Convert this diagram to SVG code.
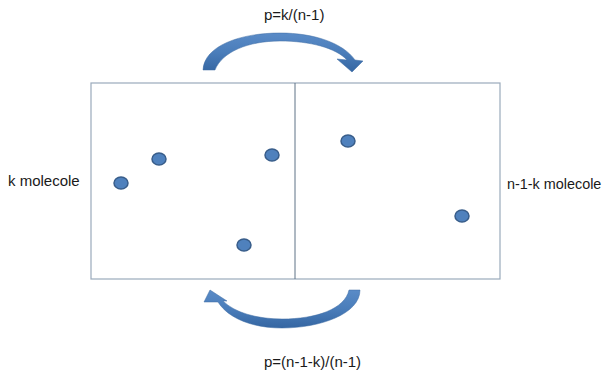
<svg xmlns="http://www.w3.org/2000/svg" width="607" height="374" viewBox="0 0 607 374">
  <style>
    .lbl { font-family: "Liberation Sans", Arial, sans-serif; font-size: 15px; fill: #1a1a1a; }
    .mol { fill: #4F81BD; stroke: #385D8A; stroke-width: 1.5; }
    .box { fill: #ffffff; stroke: #9AAABB; stroke-width: 1.2; }
    .div { stroke: #5F7286; stroke-width: 1; }
    .arr { fill: url(#g); stroke: #3D6BA3; stroke-width: 0.5; }
  </style>
  <defs>
    <linearGradient id="g" x1="0" y1="0" x2="0" y2="1">
      <stop offset="0" stop-color="#5A8BC7"/>
      <stop offset="0.5" stop-color="#4A7DBA"/>
      <stop offset="1" stop-color="#3566A2"/>
    </linearGradient>
  </defs>
  <rect width="607" height="374" fill="#ffffff"/>

  <g id="container">
    <rect class="box" x="91" y="83" width="409" height="196"/>
    <line class="div" x1="295" y1="83" x2="295" y2="279"/>
  </g>

  <g id="molecules">
    <ellipse class="mol" cx="121" cy="183" rx="7" ry="6"/>
    <ellipse class="mol" cx="159" cy="159" rx="7" ry="6"/>
    <ellipse class="mol" cx="272" cy="155" rx="7" ry="6"/>
    <ellipse class="mol" cx="244" cy="245" rx="7" ry="6"/>
    <ellipse class="mol" cx="348" cy="141" rx="7" ry="6"/>
    <ellipse class="mol" cx="462" cy="216" rx="7" ry="6"/>
  </g>

  <g id="connectors">
    <path class="arr" d="M203,70 C204,46 240,33 280,33 C314,33 343,43 355,60 L363,61 L352,72 L337,59 L347,60 C336,48 310,41 280,41 C248,41 222,52 215,70 Z"/>
    <path class="arr" d="M360,290 C360,314 320,328 282,328 C252,328 228,318 218,302 L204,302 L210,290 L227,301 L223,301 C235,313 258,319 282,319 C316,319 345,309 349,290 Z"/>
  </g>

  <g id="labels">
    <text class="lbl" x="264" y="20">p=k/(n-1)</text>
    <text class="lbl" x="264" y="367">p=(n-1-k)/(n-1)</text>
    <text class="lbl" x="8" y="186">k molecole</text>
    <text class="lbl" x="507" y="189" style="font-size:14.4px">n-1-k molecole</text>
  </g>
</svg>
